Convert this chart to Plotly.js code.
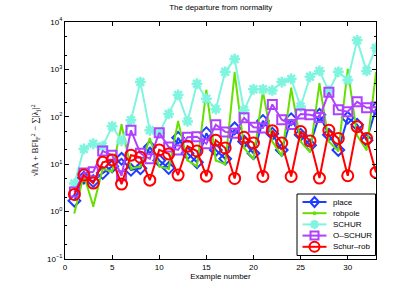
<!DOCTYPE html>
<html>
<head>
<meta charset="utf-8">
<script src="https://cdn.plot.ly/plotly-3.0.1.min.js"></script>
<style>html,body{margin:0;padding:0;background:#fff;}#chart{width:415px;height:291px;}</style>
</head>
<body>
<div id="chart"></div>
<script>
const examples = Array.from({length: 33}, (_, i) => i + 1);
const place    = [1.7, 5.2, 4.4, 6.5, 9, 13, 7.6, 8.2, 23, 12, 8.3, 36, 17, 11, 45, 20, 13, 57, 30, 17, 82, 44, 20, 89, 42, 25, 110, 42, 20, 95, 68, 32, 150];
const robpole  = [0.95, 5.9, 1.3, 8, 7, 68, 8, 9, 35, 9, 8, 80, 12, 9, 360, 12, 10, 850, 22, 13, 340, 30, 15, 400, 30, 18, 500, 30, 19, 1000, 40, 20, 850];
const schur    = [3.9, 21, 27, 24, 63, 31, 85, 540, 52, 45, 115, 290, 80, 500, 240, 145, 890, 1650, 137, 380, 380, 360, 540, 630, 165, 700, 930, 350, 890, 600, 4100, 930, 2850];
const oschur   = [2.6, 6.5, 6.9, 19, 15.5, 5.7, 52, 17, 13, 46, 23, 20, 37, 38, 27, 68, 48, 45, 95, 60, 58, 182, 87, 69, 114, 110, 97, 328, 140, 128, 207, 155, 160];
const schurrob = [2.3, 5.9, 4.0, 11, 12.3, 3.8, 15.5, 14, 4.6, 20, 16.5, 5.9, 24, 19, 5.6, 32, 22, 5.0, 37, 28, 5.5, 51, 28, 5.5, 49, 31, 5.1, 52, 35, 5.7, 62, 35, 6.7];
const seriesNames = ['place', 'robpole', 'SCHUR', 'O\u2013SCHUR', 'Schur\u2013rob'];
const seriesColors = ['#1f3cff', '#66e000', '#7ff5df', '#b040ff', '#ff0000'];
const yTickVals = [0.1, 1, 10, 100, 1000, 10000];
const yTickText = ['10<sup>\u22121</sup>', '10<sup>0</sup>', '10<sup>1</sup>', '10<sup>2</sup>', '10<sup>3</sup>', '10<sup>4</sup>'];

const FONT = 'Liberation Sans, Arial, sans-serif';

const traces = [
  {y: place, marker: {symbol: 'diamond-open', size: 9, line: {width: 2}}},
  {y: robpole, marker: {symbol: 'circle', size: 2}},
  {y: schur, marker: {symbol: 'asterisk-open', size: 9, line: {width: 2.5, color: seriesColors[2]}}},
  {y: oschur, marker: {symbol: 'square-open', size: 9, line: {width: 2}}},
  {y: schurrob, marker: {symbol: 'circle-open', size: 11, line: {width: 2}}}
].map((t, i) => {
  t.marker.color = seriesColors[i];
  return Object.assign({x: examples, type: 'scatter', mode: 'lines+markers', name: seriesNames[i],
    showlegend: false, line: {color: seriesColors[i], width: 2}}, t);
});

// ---- hand-built legend box (MATLAB-style compact legend) ----
const plotL = 65, plotT = 22, plotW = 311, plotH = 237;
const px2x = p => (p - plotL) / plotW;
const px2y = p => (plotT + plotH - p) / plotH;
const rowsPx = [202, 213.2, 224.4, 235.6, 246.8];
const shapes = [{type: 'rect', xref: 'paper', yref: 'paper', layer: 'above',
  x0: px2x(297), x1: px2x(375.5), y0: px2y(255.5), y1: px2y(194),
  fillcolor: '#fff', line: {color: '#000', width: 1}}];
const annotations = [];
const mk = (i, extra) => Object.assign({xref: 'paper', yref: 'paper', layer: 'above',
  xsizemode: 'pixel', ysizemode: 'pixel', xanchor: px2x(314.5), yanchor: px2y(rowsPx[i]),
  line: {color: seriesColors[i], width: 2}}, extra);
rowsPx.forEach((py, i) => {
  shapes.push({type: 'line', xref: 'paper', yref: 'paper', layer: 'above',
    x0: px2x(302.5), x1: px2x(326.5), y0: px2y(py), y1: px2y(py),
    line: {color: seriesColors[i], width: 2}});
  annotations.push({xref: 'paper', yref: 'paper', x: px2x(330.5), y: px2y(py), xanchor: 'left', yanchor: 'middle',
    text: seriesNames[i], showarrow: false, font: {family: FONT, size: 8, color: '#000'}});
});
shapes.push(mk(0, {type: 'path', path: 'M 0 -5 L 4.5 0 L 0 5 L -4.5 0 Z'}));
shapes.push(mk(1, {type: 'circle', x0: -1, x1: 1, y0: -1, y1: 1, fillcolor: seriesColors[1]}));
shapes.push(mk(2, {type: 'path', path: 'M -4.5 0 L 4.5 0 M 0 -4.5 L 0 4.5 M -3.2 -3.2 L 3.2 3.2 M -3.2 3.2 L 3.2 -3.2', line: {color: seriesColors[2], width: 2.5}}));
shapes.push(mk(3, {type: 'rect', x0: -4, x1: 4, y0: -4, y1: 4}));
shapes.push(mk(4, {type: 'circle', x0: -5, x1: 5, y0: -5, y1: 5}));

const axisCommon = {
  showline: true, linecolor: '#000', linewidth: 1, mirror: 'ticks',
  ticks: 'inside', ticklen: 4, tickcolor: '#000', showgrid: false, zeroline: false,
  tickfont: {family: FONT, size: 8, color: '#000'}
};

const layout = {
  width: 415, height: 291,
  margin: {l: plotL, r: 415 - plotL - plotW, t: plotT, b: 291 - plotT - plotH},
  paper_bgcolor: '#fff', plot_bgcolor: '#fff',
  showlegend: false,
  title: {text: 'The departure from normality', x: 0.532, xanchor: 'center', y: 0.985, yanchor: 'top',
          font: {family: FONT, size: 8, color: '#000'}},
  xaxis: Object.assign({}, axisCommon, {
    range: [0, 33], dtick: 5, tick0: 0,
    title: {text: 'Example number', standoff: 2, font: {family: FONT, size: 8, color: '#000'}}
  }),
  yaxis: Object.assign({}, axisCommon, {
    type: 'log', range: [-1, 4], tickvals: yTickVals, ticktext: yTickText,
    minor: {ticks: 'inside', ticklen: 2, tickcolor: '#000', showgrid: false},
    title: {text: '\u221A\u2016A + BF\u2016<sub>F</sub><sup>2</sup> \u2212 \u2211|\u03BB<sub>j</sub>|<sup>2</sup>', standoff: 6,
            font: {family: 'Liberation Serif, Times New Roman, serif', size: 9, color: '#000'}}
  }),
  shapes: shapes,
  annotations: annotations
};

Plotly.newPlot('chart', traces, layout, {staticPlot: true, displayModeBar: false});
</script>
</body>
</html>
